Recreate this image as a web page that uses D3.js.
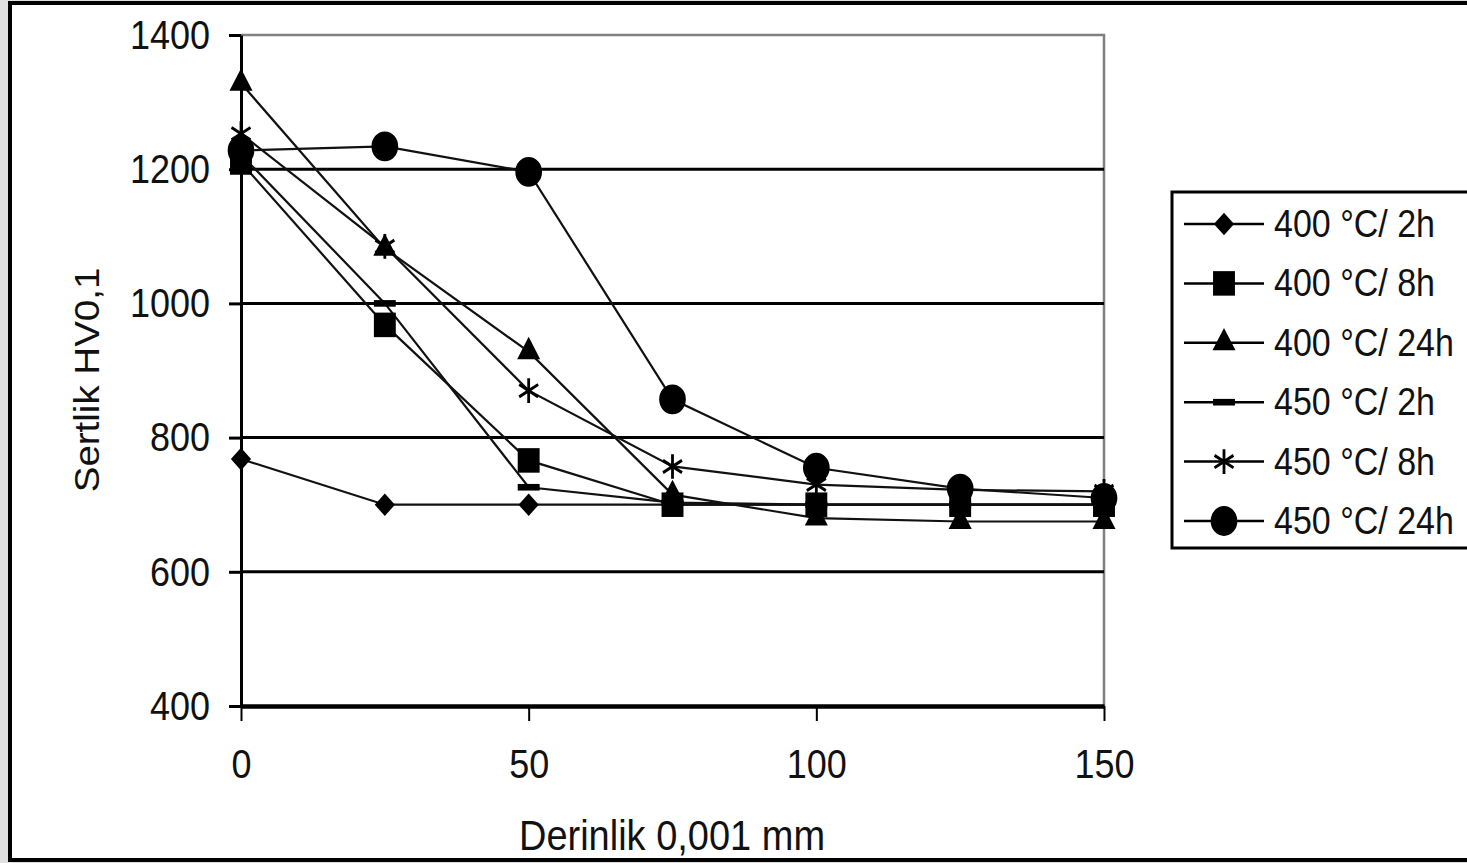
<!DOCTYPE html>
<html>
<head>
<meta charset="utf-8">
<script src="https://cdn.jsdelivr.net/npm/d3@7"></script>
<style>
  html, body { margin: 0; padding: 0; background: #e0e0e0; }
  svg { display: block; }
  text { font-family: "Liberation Sans", Arial, sans-serif; fill: #111; }
</style>
</head>
<body>
<svg id="chart"></svg>
<script>
// depth values (0,001 mm)
const depths = [0, 25, 50, 75, 100, 125, 150];

// hardness HV0,1 per treatment
const h400_2h  = [768, 700, 700, 700, 700, 700, 700];
const h400_8h  = [1210, 968, 766, 700, 700, 700, 700];
const h400_24h = [1328, 1082, 928, 715, 680, 675, 675];
const h450_2h  = [1222, 1000, 726, 703, 700, 700, 700];
const h450_8h  = [1253, 1085, 870, 757, 730, 722, 720];
const h450_24h = [1228, 1234, 1196, 857, 755, 724, 710];

const seriesNames = ["400 °C/ 2h", "400 °C/ 8h", "400 °C/ 24h", "450 °C/ 2h", "450 °C/ 8h", "450 °C/ 24h"];
const yTicks = [400, 600, 800, 1000, 1200, 1400];
const xTicks = [0, 50, 100, 150];

const W = 1467, H = 863;
const svg = d3.select("#chart").attr("width", W).attr("height", H);

// outer frame
svg.append("rect")
  .attr("x", 10).attr("y", 3)
  .attr("width", 1500).attr("height", 857)
  .attr("fill", "#fff")
  .attr("stroke", "#000")
  .attr("stroke-width", 4);

const x = d3.scaleLinear().domain([0, 150]).range([241, 1104]);
const y = d3.scaleLinear().domain([400, 1400]).range([706, 35]);

// custom markers
const diamond = {
  draw(ctx, size) {
    const r = Math.sqrt(size) / 1.4;
    ctx.moveTo(0, -r); ctx.lineTo(r, 0); ctx.lineTo(0, r); ctx.lineTo(-r, 0); ctx.closePath();
  }
};
const dash = {
  draw(ctx, size) {
    const w = Math.sqrt(size), h = w * 0.27;
    ctx.rect(-w / 2, -h / 2, w, h);
  }
};

const markers = [
  { type: diamond, size: 200, fill: true },
  { type: d3.symbolSquare, size: 480, fill: true },
  { type: d3.symbolTriangle, size: 230, fill: true },
  { type: dash, size: 480, fill: true },
  { type: d3.symbolAsterisk, size: 340, fill: false },
  { type: d3.symbolCircle, size: 560, fill: true }
];

const allSeries = [h400_2h, h400_8h, h400_24h, h450_2h, h450_8h, h450_24h].map((vals, i) => ({
  name: seriesNames[i],
  marker: markers[i],
  points: depths.map((d, j) => ({ x: d, y: vals[j] }))
}));

// plot border (gray top and right)
svg.append("path")
  .attr("d", `M${x(0)},${y(1400)}H${x(150)}V${y(400)}`)
  .attr("fill", "none")
  .attr("stroke", "#808080")
  .attr("stroke-width", 2.5);

// gridlines
svg.append("g")
  .selectAll("line")
  .data(yTicks.filter(d => d > 400 && d < 1400))
  .join("line")
  .attr("x1", x(0)).attr("x2", x(150))
  .attr("y1", d => y(d)).attr("y2", d => y(d))
  .attr("stroke", "#000")
  .attr("stroke-width", 3);

// y axis
const yAxis = svg.append("g")
  .attr("transform", `translate(${x(0)},0)`)
  .call(d3.axisLeft(y).tickValues(yTicks).tickFormat(d3.format("d"))
    .tickSize(12).tickSizeOuter(0).tickPadding(19));
yAxis.select(".domain").attr("stroke-width", 3);
yAxis.selectAll(".tick line").attr("stroke-width", 3);
yAxis.selectAll(".tick text")
  .attr("font-size", 36)
  .attr("font-family", "Liberation Sans, Arial, sans-serif")
  .attr("fill", "#111")
  .attr("transform", "scale(1,1.15)");

// x axis
const xAxis = svg.append("g")
  .attr("transform", `translate(0,${y(400)})`)
  .call(d3.axisBottom(x).tickValues(xTicks).tickFormat(d3.format("d"))
    .tickSize(15).tickSizeOuter(0).tickPadding(22));
xAxis.select(".domain").attr("stroke-width", 4.5);
xAxis.selectAll(".tick line").attr("stroke-width", 2);
xAxis.selectAll(".tick text")
  .attr("font-size", 36)
  .attr("font-family", "Liberation Sans, Arial, sans-serif")
  .attr("fill", "#111")
  .attr("transform", "scale(1,1.15)");

// axis titles
svg.append("text")
  .attr("transform", "translate(672,850) scale(1,1.12)")
  .attr("text-anchor", "middle")
  .attr("font-size", 38)
  .text("Derinlik 0,001 mm");

svg.append("text")
  .attr("transform", "translate(99,380) rotate(-90) scale(1.1,1)")
  .attr("text-anchor", "middle")
  .attr("font-size", 35)
  .text("Sertlik HV0,1");

// series lines
const line = d3.line().x(d => x(d.x)).y(d => y(d.y));

svg.append("g")
  .selectAll("path")
  .data(allSeries)
  .join("path")
  .attr("d", d => line(d.points))
  .attr("fill", "none")
  .attr("stroke", "#111")
  .attr("stroke-width", 2.2);

// markers
function drawMarker(sel, m) {
  sel.append("path")
    .attr("d", d3.symbol().type(m.type).size(m.size)())
    .attr("fill", m.fill ? "#000" : "none")
    .attr("stroke", "#000")
    .attr("stroke-width", m.fill ? 0 : 2.8);
}

allSeries.forEach(s => {
  svg.append("g")
    .selectAll("g")
    .data(s.points)
    .join("g")
    .attr("transform", d => `translate(${x(d.x)},${y(d.y)}) scale(1,1.12)`)
    .each(function () { drawMarker(d3.select(this), s.marker); });
});

// legend
const legend = svg.append("g");
legend.append("rect")
  .attr("x", 1172).attr("y", 192)
  .attr("width", 400).attr("height", 356)
  .attr("fill", "#fff")
  .attr("stroke", "#000")
  .attr("stroke-width", 3);

const rows = legend.selectAll("g.row")
  .data(allSeries)
  .join("g")
  .attr("class", "row")
  .attr("transform", (d, i) => `translate(0,${224 + i * 59.4})`);

rows.append("line")
  .attr("x1", 1184).attr("x2", 1264)
  .attr("stroke", "#000")
  .attr("stroke-width", 2.5);

rows.append("g")
  .attr("transform", "translate(1224,0) scale(1,1.12)")
  .each(function (d) { drawMarker(d3.select(this), d.marker); });

rows.append("text")
  .attr("transform", "translate(1274,13) scale(1,1.12)")
  .attr("font-size", 34)
  .text(d => d.name);
</script>
</body>
</html>
